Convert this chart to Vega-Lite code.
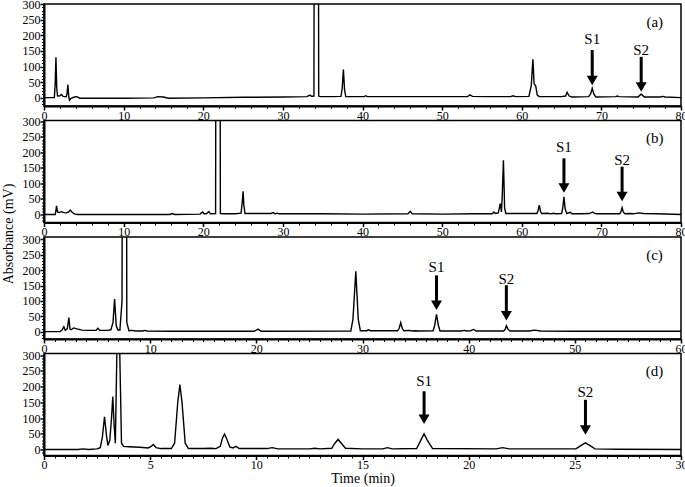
{
"$schema": "https://vega.github.io/schema/vega-lite/v6.json",
"padding": {"left": 0, "top": -3, "right": 0, "bottom": 0},
"background": "white",
"spacing": 14.5,
"bounds": "flush",
"config": {
 "view": {"stroke": "black", "strokeWidth": 1.5},
 "axis": {"domainColor": "black", "domainWidth": 2, "tickColor": "black", "labelColor": "black", "labelFont": "Liberation Serif", "labelFontSize": 12, "titleFont": "Liberation Serif", "titleFontSize": 14, "titleFontWeight": "normal", "titleColor": "black", "grid": false, "labelOverlap": false, "labelFlush": false, "labelPadding": 0, "tickSize": 4, "tickWidth": 1.5},
 "text": {"font": "Liberation Serif", "fontSize": 15, "color": "black"}
},
"datasets": {
 "a": [
  {"t":0,"v":0},{"t":1.3,"v":0},{"t":1.4,"v":40},{"t":1.5,"v":130},{"t":1.6,"v":30},{"t":1.7,"v":5},{"t":2.0,"v":6},{"t":2.2,"v":10},{"t":2.4,"v":4},{"t":2.8,"v":3},{"t":2.9,"v":15},{"t":3.0,"v":42},{"t":3.1,"v":5},{"t":3.2,"v":-8},{"t":3.4,"v":-2},{"t":3.8,"v":2},{"t":4.1,"v":3},{"t":4.5,"v":-2},{"t":6,"v":-2},{"t":10,"v":-2},{"t":13.8,"v":-1},{"t":14.3,"v":3},{"t":15.0,"v":2},{"t":15.6,"v":-2},{"t":20,"v":-1},{"t":25,"v":1},{"t":30,"v":2},{"t":33.0,"v":3},{"t":33.4,"v":8},{"t":33.6,"v":4},{"t":33.9,"v":5},{"t":34.2,"v":5000},{"t":34.5,"v":5},{"t":34.7,"v":3},{"t":36,"v":3},{"t":37.3,"v":4},{"t":37.45,"v":30},{"t":37.6,"v":90},{"t":37.75,"v":25},{"t":37.9,"v":3},{"t":40.2,"v":3},{"t":40.4,"v":6},{"t":40.6,"v":3},{"t":45,"v":3},{"t":50,"v":3},{"t":53.2,"v":3},{"t":53.5,"v":9},{"t":53.8,"v":4},{"t":56,"v":3},{"t":58.6,"v":3},{"t":58.9,"v":6},{"t":59.2,"v":3},{"t":60.9,"v":4},{"t":61.2,"v":40},{"t":61.4,"v":123},{"t":61.55,"v":45},{"t":61.75,"v":38},{"t":61.95,"v":8},{"t":62.2,"v":3},{"t":65,"v":3},{"t":65.5,"v":5},{"t":65.7,"v":17},{"t":65.95,"v":5},{"t":66.3,"v":2},{"t":68.4,"v":3},{"t":68.65,"v":12},{"t":68.85,"v":30},{"t":69.05,"v":12},{"t":69.3,"v":2},{"t":71.8,"v":3},{"t":72,"v":5},{"t":72.2,"v":3},{"t":74.6,"v":2},{"t":74.85,"v":8},{"t":75.0,"v":11},{"t":75.15,"v":8},{"t":75.4,"v":2},{"t":77.4,"v":2},{"t":77.7,"v":4},{"t":78,"v":2},{"t":80,"v":0}
 ],
 "b": [
  {"t":0,"v":0},{"t":1.4,"v":0},{"t":1.5,"v":12},{"t":1.57,"v":28},{"t":1.7,"v":8},{"t":1.9,"v":6},{"t":2.2,"v":9},{"t":2.5,"v":6},{"t":2.8,"v":5},{"t":3.1,"v":8},{"t":3.3,"v":14},{"t":3.5,"v":8},{"t":3.8,"v":2},{"t":4.2,"v":0},{"t":10,"v":0},{"t":15.8,"v":0},{"t":16.1,"v":3},{"t":16.4,"v":0},{"t":19.6,"v":1},{"t":19.9,"v":8},{"t":20.1,"v":2},{"t":20.4,"v":2},{"t":20.7,"v":9},{"t":20.9,"v":2},{"t":21.55,"v":3},{"t":21.85,"v":5000},{"t":22.15,"v":3},{"t":22.6,"v":2},{"t":24,"v":2},{"t":24.75,"v":4},{"t":24.9,"v":40},{"t":25.0,"v":75},{"t":25.1,"v":30},{"t":25.25,"v":3},{"t":28.5,"v":3},{"t":28.8,"v":6},{"t":29.0,"v":2},{"t":29.3,"v":4},{"t":29.5,"v":2},{"t":35,"v":2},{"t":40,"v":1},{"t":45.7,"v":2},{"t":46.0,"v":10},{"t":46.25,"v":2},{"t":50,"v":1},{"t":54,"v":2},{"t":56.3,"v":2},{"t":56.5,"v":8},{"t":56.7,"v":3},{"t":57.05,"v":5},{"t":57.3,"v":35},{"t":57.45,"v":8},{"t":57.55,"v":60},{"t":57.7,"v":175},{"t":57.85,"v":20},{"t":58.0,"v":3},{"t":61.9,"v":3},{"t":62.05,"v":12},{"t":62.2,"v":30},{"t":62.35,"v":10},{"t":62.5,"v":3},{"t":63.3,"v":4},{"t":63.6,"v":2},{"t":64.0,"v":4},{"t":64.3,"v":2},{"t":65.0,"v":3},{"t":65.15,"v":20},{"t":65.3,"v":57},{"t":65.45,"v":18},{"t":65.65,"v":3},{"t":66.1,"v":7},{"t":66.3,"v":2},{"t":67.5,"v":2},{"t":68.5,"v":3},{"t":68.9,"v":8},{"t":69.1,"v":4},{"t":69.4,"v":2},{"t":72.3,"v":2},{"t":72.45,"v":8},{"t":72.6,"v":22},{"t":72.75,"v":8},{"t":72.95,"v":2},{"t":73.6,"v":3},{"t":74.0,"v":2},{"t":74.7,"v":5},{"t":75.3,"v":3},{"t":77,"v":2},{"t":80,"v":0}
 ],
 "c": [
  {"t":0,"v":0},{"t":1.5,"v":0},{"t":1.7,"v":5},{"t":1.87,"v":16},{"t":2.0,"v":4},{"t":2.2,"v":10},{"t":2.34,"v":46},{"t":2.45,"v":8},{"t":2.55,"v":6},{"t":2.8,"v":12},{"t":3.1,"v":9},{"t":3.6,"v":5},{"t":4.2,"v":4},{"t":4.9,"v":4},{"t":5.07,"v":11},{"t":5.25,"v":4},{"t":6.0,"v":4},{"t":6.3,"v":6},{"t":6.5,"v":30},{"t":6.65,"v":106},{"t":6.8,"v":20},{"t":6.95,"v":6},{"t":7.15,"v":5},{"t":7.35,"v":100},{"t":7.57,"v":5000},{"t":7.8,"v":30},{"t":8.0,"v":3},{"t":8.3,"v":4},{"t":8.6,"v":2},{"t":9.3,"v":2},{"t":9.5,"v":4},{"t":9.7,"v":2},{"t":12,"v":1},{"t":19.8,"v":1},{"t":20.16,"v":8},{"t":20.45,"v":1},{"t":28.9,"v":2},{"t":29.1,"v":40},{"t":29.37,"v":196},{"t":29.6,"v":40},{"t":29.8,"v":3},{"t":30.4,"v":3},{"t":30.56,"v":6},{"t":30.75,"v":3},{"t":33.3,"v":3},{"t":33.45,"v":10},{"t":33.6,"v":29},{"t":33.75,"v":10},{"t":33.9,"v":3},{"t":34.4,"v":4},{"t":34.7,"v":2},{"t":35.0,"v":3},{"t":35.3,"v":2},{"t":36.65,"v":3},{"t":36.8,"v":20},{"t":36.97,"v":56},{"t":37.15,"v":20},{"t":37.3,"v":2},{"t":39.3,"v":2},{"t":39.6,"v":4},{"t":39.8,"v":2},{"t":40.2,"v":3},{"t":40.45,"v":7},{"t":40.7,"v":2},{"t":43.3,"v":2},{"t":43.45,"v":8},{"t":43.55,"v":19},{"t":43.7,"v":8},{"t":43.9,"v":2},{"t":45.7,"v":2},{"t":46.2,"v":5},{"t":46.8,"v":2},{"t":50,"v":1},{"t":60,"v":1}
 ],
 "d": [
  {"t":0,"v":0},{"t":1.6,"v":0},{"t":1.85,"v":2},{"t":2.1,"v":0},{"t":2.5,"v":2},{"t":2.65,"v":6},{"t":2.75,"v":40},{"t":2.85,"v":104},{"t":2.95,"v":40},{"t":3.01,"v":13},{"t":3.1,"v":30},{"t":3.18,"v":100},{"t":3.24,"v":168},{"t":3.3,"v":80},{"t":3.36,"v":20},{"t":3.43,"v":300},{"t":3.5,"v":5000},{"t":3.57,"v":300},{"t":3.65,"v":20},{"t":3.75,"v":10},{"t":4.0,"v":9},{"t":4.5,"v":7},{"t":4.9,"v":5},{"t":5.05,"v":10},{"t":5.15,"v":16},{"t":5.28,"v":6},{"t":5.5,"v":3},{"t":6.0,"v":3},{"t":6.15,"v":20},{"t":6.3,"v":150},{"t":6.4,"v":206},{"t":6.5,"v":150},{"t":6.65,"v":20},{"t":6.8,"v":3},{"t":7.5,"v":3},{"t":7.85,"v":4},{"t":8.1,"v":3},{"t":8.3,"v":10},{"t":8.4,"v":35},{"t":8.5,"v":49},{"t":8.6,"v":35},{"t":8.75,"v":8},{"t":8.9,"v":5},{"t":9.04,"v":10},{"t":9.2,"v":3},{"t":10.5,"v":3},{"t":10.75,"v":6},{"t":11.0,"v":2},{"t":12.5,"v":2},{"t":12.75,"v":4},{"t":13.0,"v":2},{"t":13.55,"v":4},{"t":13.7,"v":20},{"t":13.85,"v":32},{"t":14.0,"v":20},{"t":14.2,"v":4},{"t":15.0,"v":2},{"t":15.95,"v":2},{"t":16.18,"v":6},{"t":16.4,"v":2},{"t":17.55,"v":3},{"t":17.75,"v":30},{"t":17.9,"v":50},{"t":18.05,"v":30},{"t":18.3,"v":3},{"t":21.3,"v":2},{"t":21.6,"v":6},{"t":21.9,"v":2},{"t":25.05,"v":2},{"t":25.3,"v":13},{"t":25.5,"v":21},{"t":25.7,"v":13},{"t":25.95,"v":2},{"t":27,"v":1},{"t":30,"v":0}
 ],
 "arrows": [
  {"p":"a","x":68.85,"ytop":153,"yhead":55},
  {"p":"a","x":75.0,"ytop":131,"yhead":34},
  {"p":"b","x":65.3,"ytop":181,"yhead":85},
  {"p":"b","x":72.6,"ytop":154,"yhead":58},
  {"p":"c","x":36.97,"ytop":183,"yhead":86},
  {"p":"c","x":43.55,"ytop":151,"yhead":51.5},
  {"p":"d","x":17.9,"ytop":185,"yhead":96},
  {"p":"d","x":25.5,"ytop":158,"yhead":62}
 ],
 "texts": [
  {"p":"a","x":68.85,"y":188,"label":"S1"},
  {"p":"a","x":75.0,"y":153,"label":"S2"},
  {"p":"a","x":76.7,"y":243,"label":"(a)"},
  {"p":"b","x":65.3,"y":218.5,"label":"S1"},
  {"p":"b","x":72.6,"y":176,"label":"S2"},
  {"p":"b","x":76.7,"y":247,"label":"(b)"},
  {"p":"c","x":36.97,"y":210,"label":"S1"},
  {"p":"c","x":43.55,"y":172,"label":"S2"},
  {"p":"c","x":57.5,"y":248,"label":"(c)"},
  {"p":"d","x":17.9,"y":217,"label":"S1"},
  {"p":"d","x":25.5,"y":183,"label":"S2"},
  {"p":"d","x":28.75,"y":248,"label":"(d)"}
 ]
},
"vconcat": [
 {
  "width": 637, "height": 102,
  "resolve": {"axis": {"x": "independent", "y": "independent"}},
  "layer": [
   {"data": {"name": "a"}, "mark": {"type": "line", "clip": true, "color": "black", "strokeWidth": 1.4},
    "encoding": {
     "x": {"field": "t", "type": "quantitative", "scale": {"domain": [0, 80], "nice": false, "zero": false},
      "axis": {"orient": "bottom", "title": null, "values": [0,10,20,30,40,50,60,70,80]}},
     "y": {"field": "v", "type": "quantitative", "scale": {"domain": [-27, 301], "nice": false, "zero": false},
      "axis": {"orient": "left", "title": null, "values": [0,50,100,150,200,250,300]}}
    }},
   {"data": {"name": "arrows"}, "transform": [{"filter": "datum.p === 'a'"}], "mark": {"type": "rule", "strokeWidth": 3, "color": "black"},
    "encoding": {
     "x": {"field": "x", "type": "quantitative", "axis": {"orient": "bottom", "title": null, "labels": false, "domain": false, "tickSize": 2.5, "tickWidth": 1, "values": [2,4,6,8,12,14,16,18,22,24,26,28,32,34,36,38,42,44,46,48,52,54,56,58,62,64,66,68,72,74,76,78]}},
     "y": {"field": "ytop", "type": "quantitative", "axis": {"orient": "left", "title": null, "labels": false, "domain": false, "tickSize": 2.5, "tickWidth": 1, "values": [-20,-10,10,20,30,40,60,70,80,90,110,120,130,140,160,170,180,190,210,220,230,240,260,270,280,290]}},
     "y2": {"field": "yhead"}}},
   {"data": {"name": "arrows"}, "transform": [{"filter": "datum.p === 'a'"}], "mark": {"type": "point", "shape": "triangle-down", "filled": true, "size": 121, "color": "black", "opacity": 1},
    "encoding": {"x": {"field": "x", "type": "quantitative", "axis": null}, "y": {"field": "yhead", "type": "quantitative", "axis": null}}},
   {"data": {"name": "texts"}, "transform": [{"filter": "datum.p === 'a'"}], "mark": {"type": "text", "baseline": "middle", "align": "center"},
    "encoding": {"x": {"field": "x", "type": "quantitative", "axis": null}, "y": {"field": "y", "type": "quantitative", "axis": null}, "text": {"field": "label"}}}
  ]
 },
 {
  "width": 637, "height": 102,
  "resolve": {"axis": {"x": "independent", "y": "independent"}},
  "layer": [
   {"data": {"name": "b"}, "mark": {"type": "line", "clip": true, "color": "black", "strokeWidth": 1.4},
    "encoding": {
     "x": {"field": "t", "type": "quantitative", "scale": {"domain": [0, 80], "nice": false, "zero": false},
      "axis": {"orient": "bottom", "title": null, "values": [0,10,20,30,40,50,60,70,80]}},
     "y": {"field": "v", "type": "quantitative", "scale": {"domain": [-26, 303], "nice": false, "zero": false},
      "axis": {"orient": "left", "title": "Absorbance (mV)", "titleAngle": 270, "titleX": -35.5, "titleY": 113, "titleAlign": "center", "titleBaseline": "middle", "values": [0,50,100,150,200,250,300]}}
    }},
   {"data": {"name": "arrows"}, "transform": [{"filter": "datum.p === 'b'"}], "mark": {"type": "rule", "strokeWidth": 3, "color": "black"},
    "encoding": {
     "x": {"field": "x", "type": "quantitative", "axis": {"orient": "bottom", "title": null, "labels": false, "domain": false, "tickSize": 2.5, "tickWidth": 1, "values": [2,4,6,8,12,14,16,18,22,24,26,28,32,34,36,38,42,44,46,48,52,54,56,58,62,64,66,68,72,74,76,78]}},
     "y": {"field": "ytop", "type": "quantitative", "axis": {"orient": "left", "title": null, "labels": false, "domain": false, "tickSize": 2.5, "tickWidth": 1, "values": [-20,-10,10,20,30,40,60,70,80,90,110,120,130,140,160,170,180,190,210,220,230,240,260,270,280,290]}},
     "y2": {"field": "yhead"}}},
   {"data": {"name": "arrows"}, "transform": [{"filter": "datum.p === 'b'"}], "mark": {"type": "point", "shape": "triangle-down", "filled": true, "size": 121, "color": "black", "opacity": 1},
    "encoding": {"x": {"field": "x", "type": "quantitative", "axis": null}, "y": {"field": "yhead", "type": "quantitative", "axis": null}}},
   {"data": {"name": "texts"}, "transform": [{"filter": "datum.p === 'b'"}], "mark": {"type": "text", "baseline": "middle", "align": "center"},
    "encoding": {"x": {"field": "x", "type": "quantitative", "axis": null}, "y": {"field": "y", "type": "quantitative", "axis": null}, "text": {"field": "label"}}}
  ]
 },
 {
  "width": 637, "height": 102,
  "resolve": {"axis": {"x": "independent", "y": "independent"}},
  "layer": [
   {"data": {"name": "c"}, "mark": {"type": "line", "clip": true, "color": "black", "strokeWidth": 1.4},
    "encoding": {
     "x": {"field": "t", "type": "quantitative", "scale": {"domain": [0, 60], "nice": false, "zero": false},
      "axis": {"orient": "bottom", "title": null, "values": [0,10,20,30,40,50,60]}},
     "y": {"field": "v", "type": "quantitative", "scale": {"domain": [-24, 308], "nice": false, "zero": false},
      "axis": {"orient": "left", "title": null, "values": [0,50,100,150,200,250,300]}}
    }},
   {"data": {"name": "arrows"}, "transform": [{"filter": "datum.p === 'c'"}], "mark": {"type": "rule", "strokeWidth": 3, "color": "black"},
    "encoding": {
     "x": {"field": "x", "type": "quantitative", "axis": {"orient": "bottom", "title": null, "labels": false, "domain": false, "tickSize": 2.5, "tickWidth": 1, "values": [1,2,3,4,5,6,7,8,9,11,12,13,14,15,16,17,18,19,21,22,23,24,25,26,27,28,29,31,32,33,34,35,36,37,38,39,41,42,43,44,45,46,47,48,49,51,52,53,54,55,56,57,58,59]}},
     "y": {"field": "ytop", "type": "quantitative", "axis": {"orient": "left", "title": null, "labels": false, "domain": false, "tickSize": 2.5, "tickWidth": 1, "values": [-20,-10,10,20,30,40,60,70,80,90,110,120,130,140,160,170,180,190,210,220,230,240,260,270,280,290]}},
     "y2": {"field": "yhead"}}},
   {"data": {"name": "arrows"}, "transform": [{"filter": "datum.p === 'c'"}], "mark": {"type": "point", "shape": "triangle-down", "filled": true, "size": 121, "color": "black", "opacity": 1},
    "encoding": {"x": {"field": "x", "type": "quantitative", "axis": null}, "y": {"field": "yhead", "type": "quantitative", "axis": null}}},
   {"data": {"name": "texts"}, "transform": [{"filter": "datum.p === 'c'"}], "mark": {"type": "text", "baseline": "middle", "align": "center"},
    "encoding": {"x": {"field": "x", "type": "quantitative", "axis": null}, "y": {"field": "y", "type": "quantitative", "axis": null}, "text": {"field": "label"}}}
  ]
 },
 {
  "width": 637, "height": 102,
  "resolve": {"axis": {"x": "independent", "y": "independent"}},
  "layer": [
   {"data": {"name": "d"}, "mark": {"type": "line", "clip": true, "color": "black", "strokeWidth": 1.4},
    "encoding": {
     "x": {"field": "t", "type": "quantitative", "scale": {"domain": [0, 30], "nice": false, "zero": false},
      "axis": {"orient": "bottom", "title": "Time (min)", "titlePadding": 1, "values": [0,5,10,15,20,25,30]}},
     "y": {"field": "v", "type": "quantitative", "scale": {"domain": [-19, 305], "nice": false, "zero": false},
      "axis": {"orient": "left", "title": null, "values": [0,50,100,150,200,250,300]}}
    }},
   {"data": {"name": "arrows"}, "transform": [{"filter": "datum.p === 'd'"}], "mark": {"type": "rule", "strokeWidth": 3, "color": "black"},
    "encoding": {
     "x": {"field": "x", "type": "quantitative", "axis": {"orient": "bottom", "title": null, "labels": false, "domain": false, "tickSize": 2.5, "tickWidth": 1, "values": [0.5,1,1.5,2,2.5,3,3.5,4,4.5,5.5,6,6.5,7,7.5,8,8.5,9,9.5,10.5,11,11.5,12,12.5,13,13.5,14,14.5,15.5,16,16.5,17,17.5,18,18.5,19,19.5,20.5,21,21.5,22,22.5,23,23.5,24,24.5,25.5,26,26.5,27,27.5,28,28.5,29,29.5]}},
     "y": {"field": "ytop", "type": "quantitative", "axis": {"orient": "left", "title": null, "labels": false, "domain": false, "tickSize": 2.5, "tickWidth": 1, "values": [-10,10,20,30,40,60,70,80,90,110,120,130,140,160,170,180,190,210,220,230,240,260,270,280,290]}},
     "y2": {"field": "yhead"}}},
   {"data": {"name": "arrows"}, "transform": [{"filter": "datum.p === 'd'"}], "mark": {"type": "point", "shape": "triangle-down", "filled": true, "size": 121, "color": "black", "opacity": 1},
    "encoding": {"x": {"field": "x", "type": "quantitative", "axis": null}, "y": {"field": "yhead", "type": "quantitative", "axis": null}}},
   {"data": {"name": "texts"}, "transform": [{"filter": "datum.p === 'd'"}], "mark": {"type": "text", "baseline": "middle", "align": "center"},
    "encoding": {"x": {"field": "x", "type": "quantitative", "axis": null}, "y": {"field": "y", "type": "quantitative", "axis": null}, "text": {"field": "label"}}}
  ]
 }
]
}
